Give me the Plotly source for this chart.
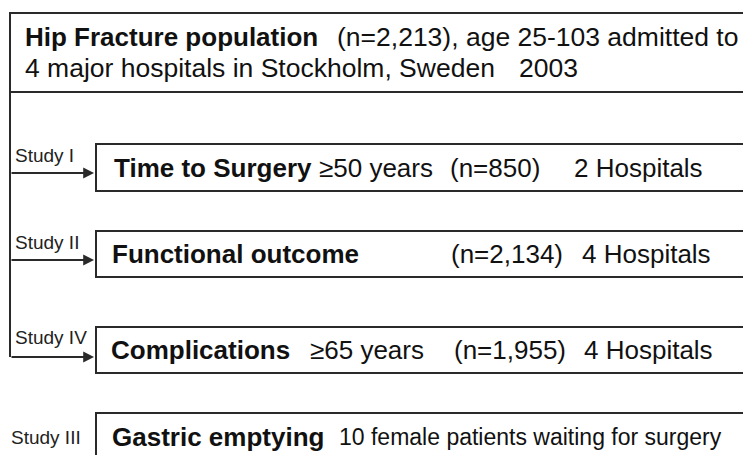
import plotly.graph_objects as go

FONT = "Liberation Sans, Arial, sans-serif"
LINE = "#2a2a2a"
TXT = "#111111"

# ---- content ----
header_bold = "Hip Fracture population"
header_rest = "(n=2,213), age 25-103 admitted to"
header_line2 = "4 major hospitals in Stockholm, Sweden"
header_year = "2003"

study_labels = ["Study I", "Study II", "Study IV", "Study III"]
study_titles = ["Time to Surgery", "Functional outcome", "Complications", "Gastric emptying"]
study_ages = ["\u226550 years", "", "\u226565 years", ""]
study_n = ["(n=850)", "(n=2,134)", "(n=1,955)", ""]
study_hosp = ["2 Hospitals", "4 Hospitals", "4 Hospitals", ""]
study_extra = ["", "", "", "10 female patients waiting for surgery"]

# ---- layout geometry (pixels in the 751x455 window) ----
box_top = [144, 231, 327, 413]
box_bot = [191, 277, 373, 475]
arrow_y = [173, 260, 357, None]
label_y = [155, 242, 337, 437]
label_x = [13, 13, 13, 9]
title_x = [112, 110, 109, 110]
age_x = [317, None, 308, None]
n_x = [448, 449, 452, None]
hosp_x = [572, 580, 582, None]
extra_x = [None, None, None, 337]

# the page body has an 8px default margin: shift the figure so window pixels map 1:1
OFF = 8

shapes = []
annotations = []

def line(x0, y0, x1, y1):
    shapes.append(dict(type="line", x0=x0, y0=y0, x1=x1, y1=y1,
                       line=dict(color=LINE, width=2), layer="above"))

def text(x, y, s, size=26, bold=False, color=TXT):
    annotations.append(dict(x=x, y=y, xref="x", yref="y", text=("<b>%s</b>" % s) if bold else s,
                            showarrow=False, xanchor="left", yanchor="middle",
                            font=dict(family=FONT, size=size, color=color)))

# header box
shapes.append(dict(type="rect", x0=10, y0=13, x1=820, y1=92,
                   line=dict(color=LINE, width=2), fillcolor="rgba(0,0,0,0)"))
text(23, 37, header_bold, bold=True)
text(335, 37, header_rest, size=26.5)
text(23, 68, header_line2, size=26.5)
text(517, 68, header_year, size=26.5)

# vertical trunk
line(10, 92, 10, 357)

for i in range(4):
    shapes.append(dict(type="rect", x0=96, y0=box_top[i], x1=820, y1=box_bot[i],
                       line=dict(color=LINE, width=2), fillcolor="rgba(0,0,0,0)"))
    text(label_x[i], label_y[i], study_labels[i], size=19, color="#222222")
    cy = (box_top[i] + box_bot[i]) / 2 if i < 3 else 437
    text(title_x[i], cy, study_titles[i], bold=True)
    if age_x[i] is not None:
        text(age_x[i], cy, study_ages[i])
    if n_x[i] is not None:
        text(n_x[i], cy, study_n[i])
    if hosp_x[i] is not None:
        text(hosp_x[i], cy, study_hosp[i])
    if extra_x[i] is not None:
        text(extra_x[i], cy, study_extra[i], size=23)
    if arrow_y[i] is not None:
        annotations.append(dict(x=94, y=arrow_y[i], ax=10, ay=arrow_y[i], xref="x", yref="y",
                                axref="x", ayref="y", text="", showarrow=True,
                                arrowhead=2, arrowsize=1.2, arrowwidth=1.8, arrowcolor=LINE,
                                standoff=0, startstandoff=0))

fig = go.Figure()
fig.update_layout(
    width=751 - OFF, height=455 - OFF,
    margin=dict(l=0, r=0, t=0, b=0),
    paper_bgcolor="white", plot_bgcolor="white",
    xaxis=dict(range=[OFF, 751], visible=False, fixedrange=True),
    yaxis=dict(range=[455, OFF], visible=False, fixedrange=True),
    shapes=shapes, annotations=annotations, showlegend=False,
)
fig.write_html("out.html")
